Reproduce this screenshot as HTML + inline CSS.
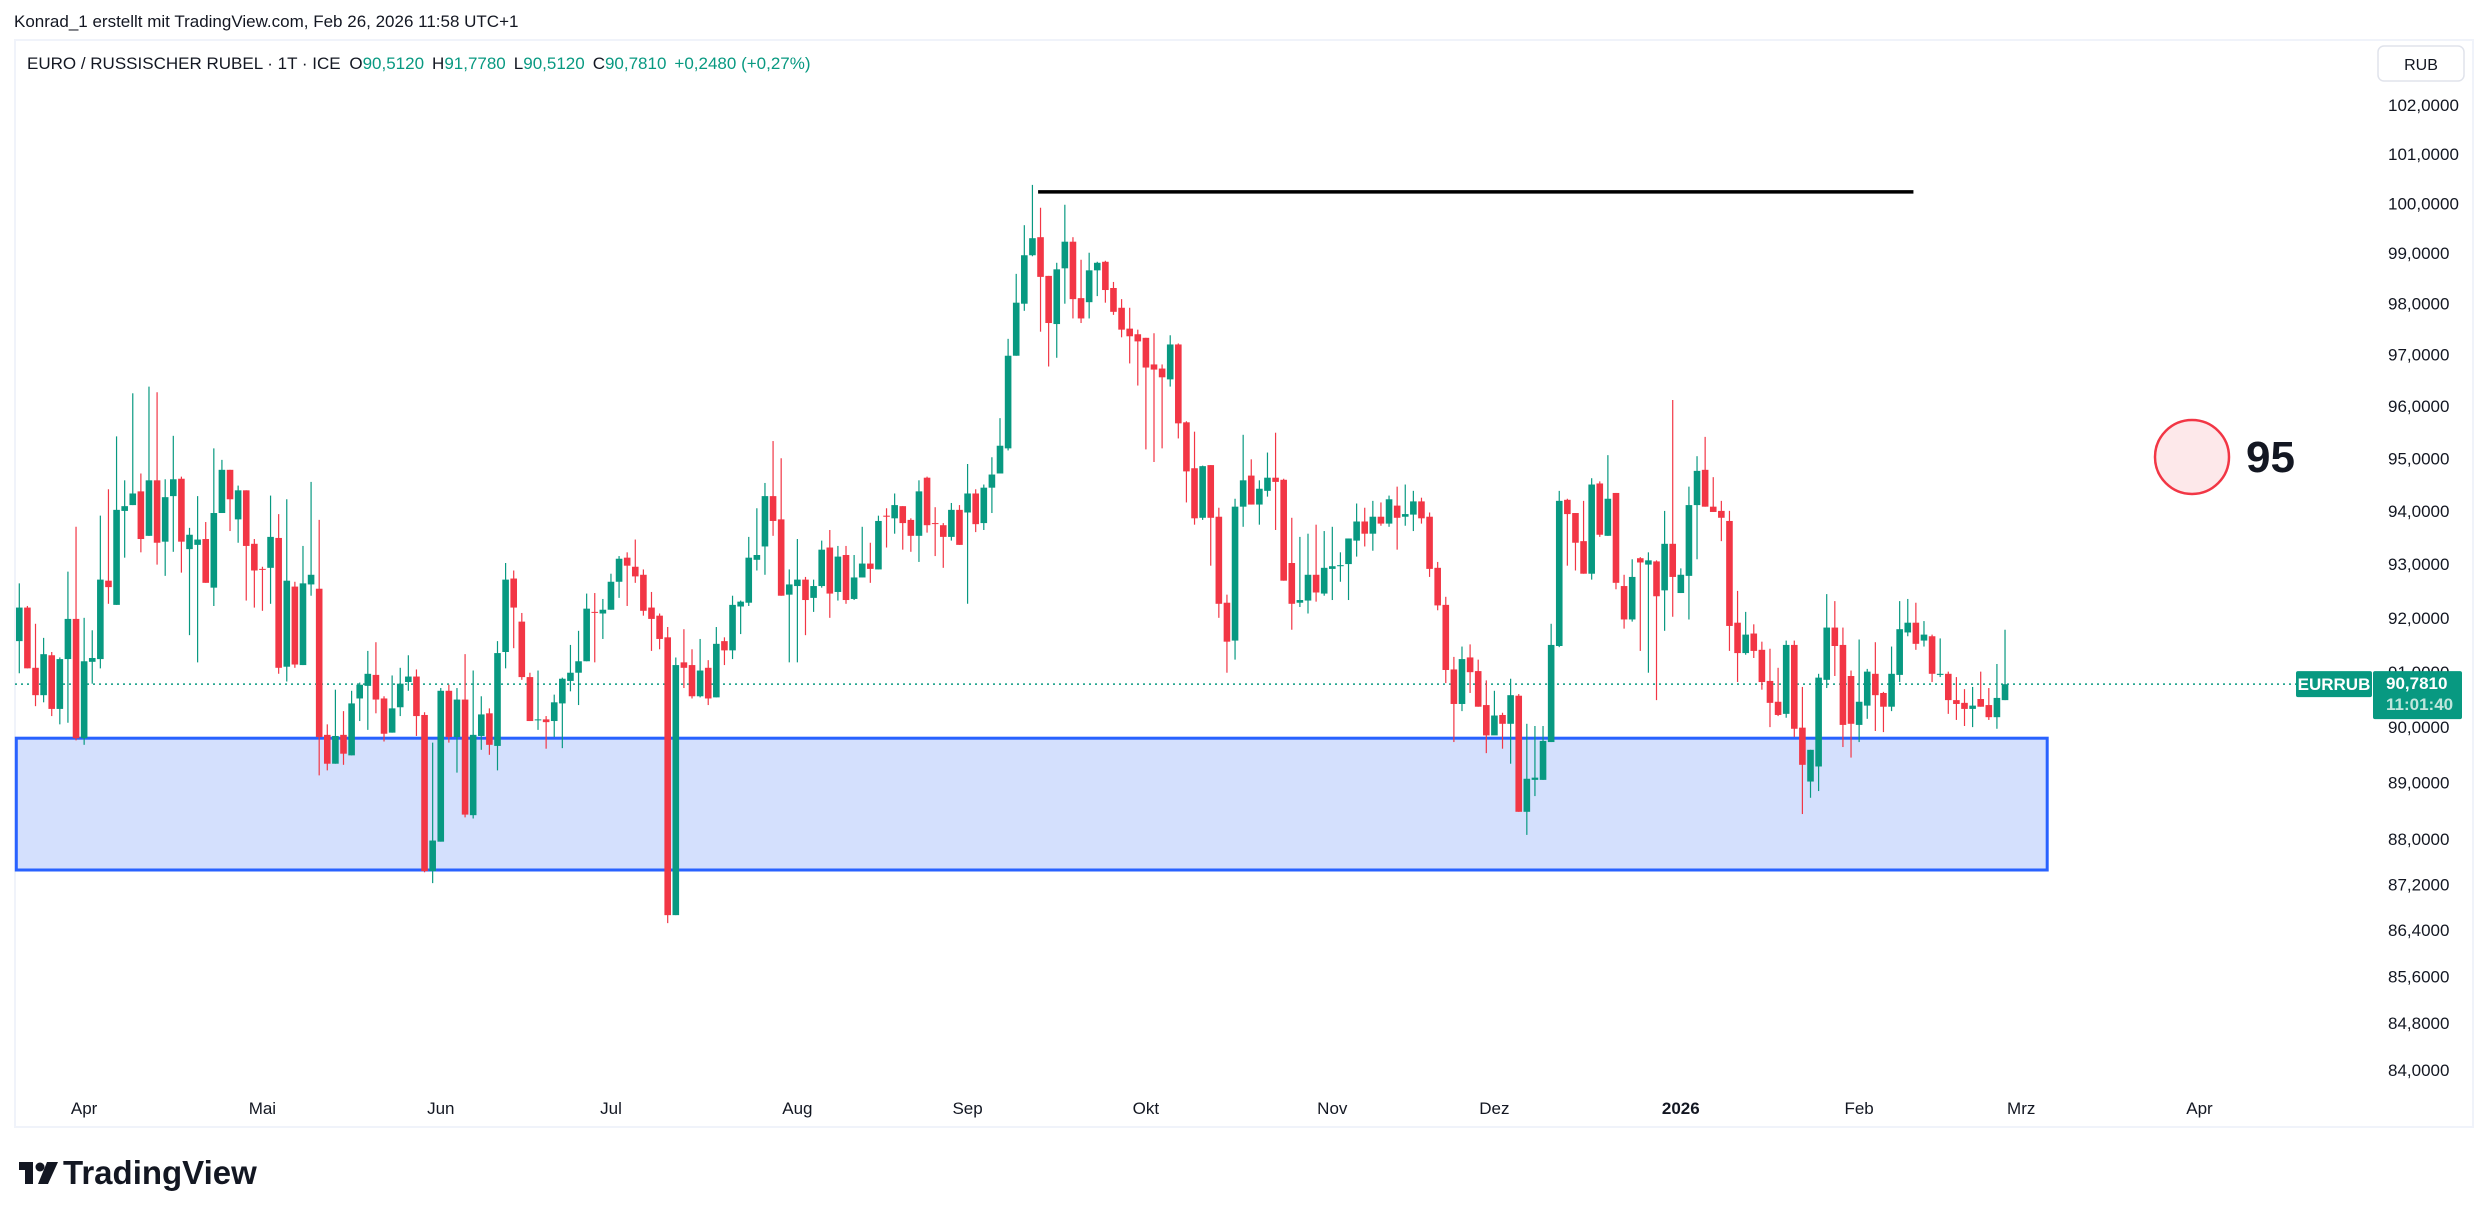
<!DOCTYPE html>
<html><head><meta charset="utf-8">
<style>
html,body{margin:0;padding:0;background:#fff;}
svg{display:block;font-family:"Liberation Sans",sans-serif;}
</style></head>
<body>
<svg id="chart" width="2489" height="1217" viewBox="0 0 2489 1217" xmlns="http://www.w3.org/2000/svg">
<rect x="0" y="0" width="2489" height="1217" fill="#ffffff"/>
<text x="14" y="27" font-size="17" fill="#131722">Konrad_1 erstellt mit TradingView.com, Feb 26, 2026 11:58 UTC+1</text>
<rect x="15" y="40" width="2458" height="1087" fill="none" stroke="#f0f3fa" stroke-width="2"/>
<text x="27" y="69" font-size="17" fill="#131722" xml:space="preserve" style="white-space:pre">EURO / RUSSISCHER RUBEL · 1T · ICE <tspan dx="4">O</tspan><tspan fill="#089981">90,5120</tspan><tspan dx="8">H</tspan><tspan fill="#089981">91,7780</tspan><tspan dx="8">L</tspan><tspan fill="#089981">90,5120</tspan><tspan dx="8">C</tspan><tspan fill="#089981">90,7810</tspan><tspan dx="8" fill="#089981">+0,2480 (+0,27%)</tspan></text>
<g>
<rect x="2378" y="46" width="86" height="35" rx="6" fill="#fff" stroke="#e0e3eb" stroke-width="1.5"/>
<text x="2421" y="70" font-size="16" text-anchor="middle" fill="#131722">RUB</text>
</g>
<g id="yaxis"></g>
<g id="xaxis"></g>
<rect id="zone" fill="#d4e0fd" stroke="#2962ff" stroke-width="3"/>
<line id="resline" stroke="#000" stroke-width="3.5"/>
<line id="lastline" stroke="#089981" stroke-width="1.5" stroke-dasharray="2,4"/>
<g id="candles"></g>
<g>
<circle cx="2192" cy="457" r="37" fill="#fde8ea" stroke="#f23645" stroke-width="2.5"/>
<text x="2246" y="472" font-size="44" font-weight="bold" fill="#131722">95</text>
</g>
<g id="lastlabel"></g>
<g>
<rect x="19" y="1162" width="13" height="8" fill="#131722"/>
<rect x="25" y="1162" width="8" height="22" fill="#131722"/>
<circle cx="40" cy="1167" r="4.5" fill="#131722"/>
<polygon points="47,1162 58,1162 48,1184 38,1184" fill="#131722"/>
<text x="63" y="1184" font-size="33" font-weight="bold" fill="#131722">TradingView</text>
</g>
</svg>
<script>
const opens=[91.57,92.19,91.08,90.58,91.31,90.33,91.24,91.98,89.80,91.19,91.24,92.69,92.24,94.00,94.11,94.37,93.53,94.58,93.42,94.28,94.61,93.28,93.36,93.47,92.56,93.96,94.78,93.84,94.39,93.38,92.91,92.93,93.49,91.10,92.58,91.13,92.62,92.54,89.86,89.34,89.86,89.49,90.52,90.75,90.95,90.52,89.90,90.36,90.82,90.92,90.22,87.43,87.95,90.66,89.82,90.50,88.42,89.84,90.25,89.66,91.37,92.73,91.93,90.91,90.13,90.14,90.11,90.43,90.84,90.99,91.20,92.11,92.08,92.15,92.67,93.12,92.95,92.80,92.19,92.04,91.64,86.66,91.18,91.13,90.56,91.08,90.54,91.57,91.40,92.21,92.28,93.08,93.33,94.28,93.84,92.43,92.59,92.71,92.37,92.59,93.31,92.48,93.17,92.35,92.75,93.01,92.90,93.91,93.86,94.09,93.83,93.53,94.63,93.77,93.73,93.51,94.02,93.97,94.33,93.77,94.44,94.71,95.19,96.98,98.00,98.96,99.32,98.55,97.60,98.70,99.23,98.11,98.03,98.66,98.83,98.31,97.92,97.51,97.40,97.33,96.81,96.73,96.52,97.20,95.69,94.81,93.87,94.87,93.89,92.28,91.58,94.08,94.67,94.12,94.38,94.63,94.59,93.02,92.28,92.32,92.80,92.45,92.91,92.96,93.00,93.44,93.80,93.57,93.89,93.76,94.10,93.89,93.93,94.18,93.89,92.93,92.24,91.05,90.42,91.27,91.02,90.40,89.85,90.22,90.06,90.57,88.48,89.05,89.05,89.73,91.48,94.21,93.96,93.43,92.82,94.52,93.53,94.34,92.59,91.97,93.11,92.99,93.05,92.51,93.38,92.46,92.78,94.11,94.78,94.08,94.00,93.81,91.91,91.35,91.71,91.41,90.84,90.46,90.24,91.50,89.99,89.02,89.29,90.86,91.82,91.50,90.93,90.04,90.39,90.97,90.62,90.37,90.95,91.73,91.91,91.58,91.66,90.95,90.97,90.49,90.44,90.33,90.51,90.40,90.18,90.49];
const highs=[92.64,92.22,91.89,91.63,91.37,91.27,92.86,93.70,92.00,91.77,93.91,94.41,95.42,94.58,96.25,94.71,96.38,96.27,94.60,95.43,94.65,93.68,94.28,93.79,95.19,94.97,94.78,94.48,94.39,93.47,92.95,94.29,93.94,94.22,92.67,93.34,94.55,93.83,90.05,90.68,90.29,90.66,90.81,91.39,91.55,90.56,90.94,91.08,91.31,91.05,90.27,89.72,90.71,90.77,90.71,91.33,91.03,90.56,90.34,91.57,93.02,92.88,92.09,90.99,91.03,90.20,90.59,90.90,91.50,91.76,92.45,92.46,92.35,92.82,93.15,93.22,93.46,92.90,92.48,92.08,91.83,91.27,91.79,91.42,91.61,91.22,91.83,91.64,92.41,92.32,93.51,94.05,94.53,95.33,95.00,92.90,93.47,92.76,92.71,93.44,93.64,93.34,93.34,93.17,93.70,93.40,93.91,94.05,94.33,94.09,93.86,94.58,94.65,94.07,93.77,94.15,94.11,94.89,94.41,94.50,95.02,95.77,97.31,98.59,99.56,100.37,99.91,98.55,98.81,99.97,99.32,98.87,99.01,98.83,98.85,98.43,98.09,97.92,97.49,97.33,97.42,96.81,97.38,97.22,95.71,95.51,94.86,94.87,94.06,92.43,94.23,95.45,94.98,94.58,95.11,95.49,94.61,93.87,93.51,93.57,93.74,93.62,93.70,93.22,93.48,94.14,94.06,94.19,94.16,94.29,94.46,94.50,94.38,94.25,93.97,93.04,92.39,91.28,91.47,91.51,91.23,90.85,90.66,90.26,90.88,90.60,90.06,90.02,90.02,91.89,94.38,94.23,93.96,94.19,94.62,94.56,95.06,94.34,92.80,93.09,93.13,93.22,93.07,94.00,96.12,92.92,94.46,95.04,95.41,94.64,94.19,94.00,92.50,92.11,91.88,91.56,91.43,91.08,91.58,91.58,90.73,89.59,90.97,92.44,92.31,91.82,91.03,91.60,91.06,91.55,90.64,91.47,92.31,92.35,92.28,91.94,91.69,91.62,91.01,90.91,90.69,90.73,91.01,90.71,91.15,91.78];
const lows=[90.98,91.07,90.38,90.45,90.20,90.05,90.08,89.76,89.68,90.79,91.07,92.26,92.24,93.12,94.11,93.22,93.53,92.99,92.78,93.23,92.84,91.68,91.18,92.65,92.22,93.96,93.62,93.40,92.32,92.19,92.13,92.26,90.97,90.83,91.08,91.13,92.41,89.13,89.22,89.34,89.32,89.49,90.11,89.95,90.25,89.74,89.90,90.20,90.66,89.84,87.41,87.22,87.95,89.72,89.18,88.38,88.36,89.59,89.50,89.22,91.07,91.44,90.86,90.11,89.95,89.61,89.82,89.62,90.65,90.40,91.20,91.18,91.61,92.15,92.37,92.22,92.65,92.04,91.39,91.42,86.52,86.66,90.71,90.52,90.54,90.40,90.54,91.13,91.24,91.70,92.22,92.88,92.80,93.53,92.41,91.18,91.18,91.68,92.11,92.56,92.00,92.32,92.26,92.33,92.75,92.65,92.90,93.31,93.57,93.27,93.23,93.04,93.59,93.15,92.93,93.44,93.36,92.26,93.60,93.64,93.96,94.71,95.15,96.98,97.86,98.94,97.45,96.77,96.94,98.00,97.71,97.62,97.71,98.15,98.02,97.78,97.34,96.83,96.40,95.17,94.93,95.19,96.38,95.38,94.16,93.74,93.83,92.97,92.00,90.99,91.23,93.70,94.12,93.74,94.27,93.64,92.69,91.78,92.20,92.08,92.30,92.41,92.33,92.67,92.33,93.14,93.33,93.25,93.72,93.70,93.27,93.72,93.62,93.76,92.76,92.14,90.80,89.73,90.29,90.62,90.37,89.53,89.86,89.61,89.34,88.48,88.07,88.76,89.05,89.73,91.46,92.97,92.88,92.82,92.71,93.51,93.53,92.53,91.80,91.93,91.39,90.99,90.49,91.76,92.02,92.46,91.97,93.09,94.08,93.98,93.43,91.39,90.82,91.32,91.26,90.68,90.00,90.20,90.17,89.82,88.44,88.73,88.85,90.71,90.93,89.64,89.45,89.73,90.15,89.93,89.91,90.29,90.82,91.66,91.41,91.47,90.82,90.91,90.24,90.13,90.02,90.00,90.37,90.13,89.97,90.49];
const closes=[92.19,91.07,90.58,91.33,90.33,91.24,91.98,89.80,91.20,91.26,92.71,92.57,94.02,94.09,94.33,93.47,94.58,93.40,94.26,94.60,93.42,93.55,93.46,92.65,93.96,94.78,94.22,94.39,93.34,92.88,92.90,93.51,91.08,92.69,91.14,92.64,92.80,89.82,89.34,89.84,89.52,90.43,90.77,90.97,90.50,89.88,90.34,90.79,90.92,90.20,87.43,87.97,90.66,89.82,90.50,88.43,89.86,90.23,89.68,91.35,92.71,92.19,90.91,90.11,90.14,90.09,90.45,90.88,90.99,91.20,92.17,92.10,92.15,92.67,93.10,92.97,92.77,92.13,91.98,91.61,86.66,91.13,91.08,90.56,91.03,90.52,91.52,91.40,92.24,92.30,93.12,93.17,94.28,93.81,92.41,92.62,92.71,92.33,92.59,93.27,92.45,93.14,92.33,92.75,93.01,92.91,93.81,93.89,94.11,93.77,93.53,94.37,93.73,93.76,93.51,94.02,93.36,94.33,93.75,94.44,94.69,95.24,96.98,98.02,98.96,99.30,98.53,97.62,98.68,99.23,98.09,97.71,98.66,98.81,98.27,97.84,97.49,97.36,97.26,96.75,96.71,96.56,97.20,95.67,94.75,93.86,94.85,93.87,92.26,91.56,94.08,94.58,94.12,94.42,94.63,94.55,92.69,92.26,92.33,92.80,92.47,92.93,92.96,92.98,93.48,93.80,93.57,93.89,93.76,94.22,93.87,93.94,94.18,93.86,92.91,92.23,91.04,90.42,91.24,91.00,90.37,89.85,90.21,90.06,90.58,88.48,89.07,89.09,89.75,91.50,94.19,93.94,93.40,92.82,94.50,93.55,94.23,92.65,91.97,92.76,93.03,93.07,92.40,93.38,92.76,92.80,94.11,94.76,94.08,93.98,93.87,91.85,91.35,91.69,91.39,90.82,90.44,90.22,91.50,89.97,89.32,89.59,90.90,91.82,91.48,90.04,90.06,90.46,91.01,90.58,90.37,90.97,91.79,91.91,91.52,91.69,90.97,90.97,90.49,90.42,90.33,90.39,90.37,90.18,90.53,90.78];
const priceTicks=[102,101,100,99,98,97,96,95,94,93,92,91,90,89,88,87.2,86.4,85.6,84.8,84];
const monthLabels=["Apr","Mai","Jun","Jul","Aug","Sep","Okt","Nov","Dez","2026","Feb","Mrz","Apr"];
const monthBars=[8,30,52,73,96,117,139,162,182,205,227,247,269];
const zoneTop=89.80, zoneBottom=87.45, zoneStartBar=0, zoneEndBar=250.2;
const resistance=100.23, resStartBar=125.7, resEndBar=233.7;
const lastPrice=90.781;

const NS="http://www.w3.org/2000/svg";
function yOf(p){return 104.8+4972*Math.log(102/p);}
function xOf(i){return 19.3+8.105*i;}
function mk(tag,attrs,parent){const e=document.createElementNS(NS,tag);for(const k in attrs)e.setAttribute(k,attrs[k]);parent.appendChild(e);return e;}

const yax=document.getElementById('yaxis');
priceTicks.forEach(p=>{
  const t=mk('text',{x:2388,y:(yOf(p)+6).toFixed(1),'font-size':17,fill:'#131722'},yax);
  
  
  t.textContent=p.toFixed(4).replace('.',',');
});
const xax=document.getElementById('xaxis');
monthLabels.forEach((m,k)=>{
  const t=mk('text',{x:xOf(monthBars[k]).toFixed(1),y:1114,'font-size':17,'text-anchor':'middle',fill:'#131722'},xax);
  if(m==='2026')t.setAttribute('font-weight','bold');
  
  
  t.textContent=m;
});

const zone=document.getElementById('zone');
zone.setAttribute('x',(xOf(zoneStartBar)-3).toFixed(1));
zone.setAttribute('y',yOf(zoneTop).toFixed(1));
zone.setAttribute('width',(xOf(zoneEndBar)-xOf(zoneStartBar)+3).toFixed(1));
zone.setAttribute('height',(yOf(zoneBottom)-yOf(zoneTop)).toFixed(1));

const rl=document.getElementById('resline');
rl.setAttribute('x1',xOf(resStartBar));rl.setAttribute('x2',xOf(resEndBar));
rl.setAttribute('y1',yOf(resistance));rl.setAttribute('y2',yOf(resistance));

const ll=document.getElementById('lastline');
ll.setAttribute('x1',15);ll.setAttribute('x2',2296);
ll.setAttribute('y1',yOf(lastPrice));ll.setAttribute('y2',yOf(lastPrice));

const cg=document.getElementById('candles');
for(let i=0;i<closes.length;i++){
  const up=closes[i]>=opens[i];
  const col=up?'#089981':'#f23645';
  const x=xOf(i);
  const g=mk('g',{},cg);
  
  
  mk('line',{x1:x,x2:x,y1:yOf(highs[i]),y2:yOf(lows[i]),stroke:col,'stroke-width':1.2},g);
  const yt=yOf(Math.max(opens[i],closes[i])),yb=yOf(Math.min(opens[i],closes[i]));
  mk('rect',{x:(x-3.3).toFixed(2),y:yt.toFixed(2),width:6.6,height:Math.max(1,yb-yt).toFixed(2),fill:col},g);
}

const lg=document.getElementById('lastlabel');
const ly=yOf(lastPrice);
const b1=mk('rect',{x:2296,y:ly-13,width:76,height:26,rx:2,fill:'#089981'},lg);


const t1=mk('text',{x:2334,y:ly+6,'font-size':17,'font-weight':'bold','text-anchor':'middle',fill:'#fff'},lg);


t1.textContent='EURRUB';
const b2=mk('rect',{x:2373,y:ly-13,width:89,height:48,rx:2,fill:'#089981'},lg);


const t2=mk('text',{x:2386,y:ly+5,'font-size':17,'font-weight':'bold',fill:'#fff'},lg);


t2.textContent=lastPrice.toFixed(4).replace('.',',');
const t3=mk('text',{x:2386,y:ly+26,'font-size':17,'font-weight':'bold',fill:'#bfe6dc'},lg);


t3.textContent='11:01:40';
</script>
</body></html>
